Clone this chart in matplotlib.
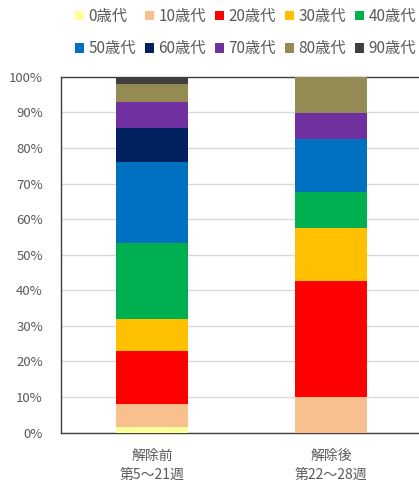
import matplotlib.pyplot as plt
import numpy as np

plt.rcParams['font.family'] = ['Noto Sans CJK JP', 'DejaVu Sans']

# 年代別の割合 (%)
groups = ["解除前\n第5～21週", "解除後\n第22～28週"]
ages = ["0歳代", "10歳代", "20歳代", "30歳代", "40歳代",
        "50歳代", "60歳代", "70歳代", "80歳代", "90歳代"]
before = [1.7, 6.4, 14.8, 9.0, 21.4, 22.8, 9.4, 7.3, 5.2, 2.0]
after = [0.0, 9.9, 32.6, 15.1, 9.9, 15.0, 0.0, 7.4, 10.1, 0.0]
colors = ["#FFFF99", "#F8C08F", "#FF0000", "#FFC000", "#00B050",
          "#0070C0", "#002060", "#7030A0", "#948A54", "#404040"]
yticks = [0, 10, 20, 30, 40, 50, 60, 70, 80, 90, 100]

grey = "#595959"

fig = plt.figure(figsize=(4.19, 4.84), dpi=100)
ax = fig.add_axes([0.1456, 0.106, 0.867, 0.7355])

x = np.arange(len(groups))
bottom = np.zeros(len(groups))
handles = []
for i, age in enumerate(ages):
    vals = np.array([before[i], after[i]])
    b = ax.bar(x, vals, width=0.4, bottom=bottom, color=colors[i], label=age, zorder=3)
    handles.append(b)
    bottom += vals

ax.set_ylim(0, 100)
ax.set_xlim(-0.508, 1.52)
ax.set_yticks(yticks)
ax.set_yticklabels([f"{t}%" for t in yticks], color=grey, fontsize=9.5)
ax.set_xticks(x)
ax.set_xticklabels(groups, color=grey, fontsize=10, linespacing=1.45)
ax.tick_params(axis='y', length=0, pad=13)
ax.tick_params(axis='x', length=0, pad=12)
ax.grid(axis='y', color="#D9D9D9", linewidth=1, zorder=0)
for s in ax.spines.values():
    s.set_color("#404040")
    s.set_linewidth(1)

# 凡例は横方向に並べる (2行×5列)
order = [0, 5, 1, 6, 2, 7, 3, 8, 4, 9]
fig.legend(handles=[handles[i] for i in order], labels=[ages[i] for i in order],
           ncol=5, loc='upper left', bbox_to_anchor=(0.145, 1.012),
           frameon=False, fontsize=11, handlelength=0.6, handleheight=0.6,
           handletextpad=0.3, columnspacing=0.58, labelspacing=1.0,
           labelcolor=grey)

fig.savefig("out.png", dpi=100)
